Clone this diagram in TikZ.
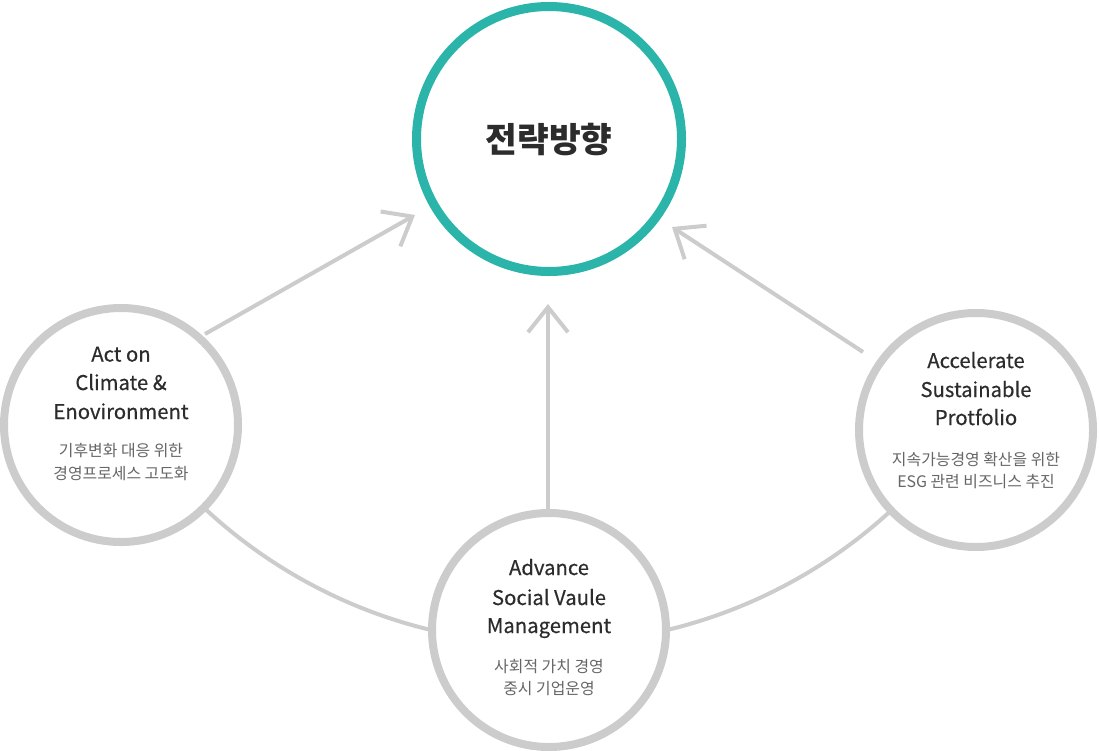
\documentclass[tikz,border=0pt]{standalone}
\usepackage{fontspec}
\setmainfont{Noto Sans CJK KR}
\usetikzlibrary{arrows.meta,backgrounds}

\definecolor{hubteal}{HTML}{2BB5AA}
\definecolor{ringgray}{HTML}{CCCCCC}
\definecolor{ink}{HTML}{2C2C2C}
\definecolor{subink}{HTML}{666666}

\begin{document}
\begin{tikzpicture}[x=1pt, y=-1pt,
  hub/.style={circle, draw=hubteal, line width=9pt, fill=white,
    minimum size=265pt, inner sep=0pt},
  pillar/.style={circle, draw=ringgray, line width=8pt, fill=white,
    minimum size=234pt, inner sep=0pt},
  link/.style={draw=ringgray, line width=4pt},
  flow/.style={link, -{Straight Barb[length=25pt, width=40pt]}},
  hubtitle/.style={font=\bfseries\fontsize{34.5}{40}\selectfont, text=ink, inner sep=0pt},
  head/.style={font=\fontsize{20.3}{29}\selectfont\addfontfeature{FakeBold=0.4},
    text=ink, anchor=base, inner sep=0pt},
  sub/.style={font=\fontsize{15.9}{22}\selectfont, text=subink, anchor=base, inner sep=0pt}]

\useasboundingbox (0,0) rectangle (1099,750);

% circles
\node[hub]    (core)  at (549,139) {};
\node[pillar] (env)   at (121,425) {};
\node[pillar] (soc)   at (549,630) {};
\node[pillar] (port)  at (976,430) {};

% arrow end points
\coordinate (envout)  at (205,334);
\coordinate (envtip)  at (415,215);
\coordinate (socout)  at (548,515);
\coordinate (soctip)  at (548,304);
\coordinate (portout) at (863,352);
\coordinate (porttip) at (672,227);

\begin{scope}[on background layer]
  % ring linking the three pillars
  \draw[link] (core.center) ++(40:505) arc[start angle=40, end angle=140, radius=505];
  % arrows towards the hub
  \draw[flow] (envout) -- (envtip);
  \draw[flow] (socout) -- (soctip);
  \draw[flow] (portout) -- (porttip);
\end{scope}

% hub title
\node[hubtitle] (title) at (549,140) {전략방향};

% left pillar
\node[head] (env1) at (121,361.5) {Act on};
\node[head] (env2) at (121,390) {Climate \&};
\node[head] (env3) at (121,419) {Enovironment};
\node[sub]  (env4) at (121,456) {기후변화 대응 위한};
\node[sub]  (env5) at (121,479) {경영프로세스 고도화};

% right pillar
\node[head] (port1) at (976,368) {Accelerate};
\node[head] (port2) at (976,397) {Sustainable};
\node[head] (port3) at (976,425) {Protfolio};
\node[sub]  (port4) at (976,465) {지속가능경영 확산을 위한};
\node[sub]  (port5) at (976,487) {ESG 관련 비즈니스 추진};

% bottom pillar
\node[head] (soc1) at (549,575) {Advance};
\node[head] (soc2) at (549,605) {Social Vaule};
\node[head] (soc3) at (549,633) {Management};
\node[sub]  (soc4) at (549,672) {사회적 가치 경영};
\node[sub]  (soc5) at (549,694) {중시 기업운영};
\end{tikzpicture}
\end{document}
